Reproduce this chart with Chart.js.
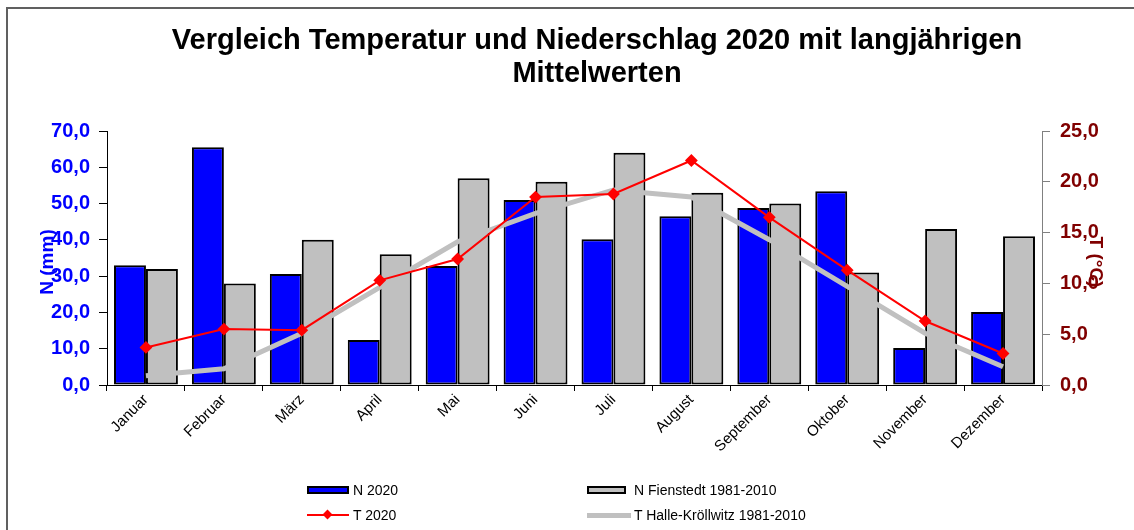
<!DOCTYPE html>
<html>
<head>
<meta charset="utf-8">
<script src="https://cdn.jsdelivr.net/npm/chart.js@4"></script>
<style>
  body { margin: 0; background: #fff; font-family: "Liberation Sans", Arial, sans-serif; }
  #wrap { position: relative; width: 1134px; height: 530px; overflow: hidden; }
  #frame { position: absolute; left: 6px; top: 7px; width: 1140px; height: 540px;
           border-left: 2px solid #606060; border-top: 2px solid #606060; pointer-events: none; }
  #title { position: absolute; left: 297px; top: 23px; width: 600px; margin: 0;
           text-align: center; font-size: 29px; font-weight: bold; line-height: 33px;
           color: #000; white-space: nowrap; display: flex; flex-direction: column; align-items: center; }
  #legend { position: absolute; left: 307px; top: 480px; width: 640px; font-size: 14px; color: #000; }
  .item { position: absolute; display: flex; align-items: center; height: 20px; }
  .sw { position: relative; display: inline-block; height: 20px; }
  .sw span { position: absolute; left: 0; }
</style>
</head>
<body>
<div id="wrap">
  <canvas id="c" width="1134" height="530"></canvas>
  <div id="frame"></div>
  <h1 id="title"><span>Vergleich Temperatur und Niederschlag 2020 mit langjährigen</span><span>Mittelwerten</span></h1>
  <div id="legend"></div>
</div>
<script>
// ================== Data ==================
const months = ['Januar', 'Februar', 'März', 'April', 'Mai', 'Juni', 'Juli', 'August',
  'September', 'Oktober', 'November', 'Dezember'];
const n2020 = [33.0, 65.5, 30.6, 12.4, 32.8, 51.0, 40.2, 46.5, 48.8, 53.4, 10.2, 20.1];
const nFienstedt = [32.0, 28.0, 40.0, 36.0, 57.0, 56.0, 64.0, 53.0, 50.0, 31.0, 43.0, 41.0];
const t2020 = [3.7, 5.5, 5.4, 10.3, 12.4, 18.5, 18.8, 22.1, 16.5, 11.3, 6.3, 3.1];
const tHalle = [0.9, 1.6, 5.1, 9.6, 14.1, 16.9, 19.2, 18.5, 14.3, 9.7, 5.1, 1.8];

const fmt = v => Number(v).toFixed(1).replace('.', ',');
const FONT = '"Liberation Sans", Arial';

// Axis titles drawn over the tick labels, like the original
const AxisTitlePlugin = {
  id: 'axisTitles',
  afterDraw(chart) {
    const { ctx, chartArea: a, scales } = chart;
    const midY = (a.top + a.bottom) / 2 + 4;
    ctx.save();
    ctx.font = `bold 19px ${FONT}`;
    ctx.textAlign = 'center';
    ctx.textBaseline = 'middle';
    ctx.fillStyle = '#0000ff';
    ctx.translate(scales.y.left + 48, midY);
    ctx.rotate(-Math.PI / 2);
    ctx.fillText('N (mm)', 0, 0);
    ctx.restore();
    ctx.save();
    ctx.font = `bold 19px ${FONT}`;
    ctx.textAlign = 'center';
    ctx.textBaseline = 'middle';
    ctx.fillStyle = '#800000';
    ctx.translate(scales.y1.left + 53, midY);
    ctx.rotate(Math.PI / 2);
    ctx.fillText('T (°C)', 0, 0);
    ctx.restore();
  }
};

const chart = new Chart(document.getElementById('c'), {
  data: {
    labels: months,
    datasets: [
      { type: 'line', label: 'T 2020', data: t2020, yAxisID: 'y1', order: 0,
        borderColor: '#ff0000', backgroundColor: '#ff0000', borderWidth: 2,
        pointStyle: 'rectRot', pointRadius: 5, tension: 0 },
      { type: 'line', label: 'T Halle-Kröllwitz 1981-2010', data: tHalle, yAxisID: 'y1', order: 1,
        borderColor: '#c0c0c0', backgroundColor: '#c0c0c0', borderWidth: 5,
        pointRadius: 0, tension: 0 },
      { type: 'bar', label: 'N 2020', data: n2020, yAxisID: 'y', order: 2,
        backgroundColor: '#0000ff', borderColor: '#000', borderWidth: 2, borderSkipped: false,
        categoryPercentage: 0.82, barPercentage: 1 },
      { type: 'bar', label: 'N Fienstedt 1981-2010', data: nFienstedt, yAxisID: 'y', order: 3,
        backgroundColor: '#c0c0c0', borderColor: '#000', borderWidth: 2, borderSkipped: false,
        categoryPercentage: 0.82, barPercentage: 1 }
    ]
  },
  plugins: [AxisTitlePlugin],
  options: {
    responsive: false,
    animation: false,
    layout: { padding: { top: 131, left: 0, right: 0, bottom: 0 } },
    plugins: {
      legend: { display: false },
      tooltip: { enabled: false },
      title: { display: false }
    },
    scales: {
      x: {
        offset: true,
        grid: { offset: true, drawOnChartArea: false, color: '#000', tickLength: 6 },
        border: { color: '#000', width: 1 },
        ticks: { color: '#000', minRotation: 45, maxRotation: 45, padding: 0,
                 font: { family: FONT, size: 15 } },
        afterFit: s => { s.height = 145; }
      },
      y: {
        position: 'left', min: 0, max: 70,
        grid: { drawOnChartArea: false, color: '#000', tickLength: 8 },
        border: { color: '#000', width: 1 },
        ticks: { stepSize: 10, color: '#0000ff', padding: 9, callback: fmt,
                 font: { family: FONT, size: 20, weight: 'bold' } },
        afterFit: s => { s.width = 107; }
      },
      y1: {
        position: 'right', min: 0, max: 25,
        grid: { drawOnChartArea: false, color: '#808080', tickLength: 8 },
        border: { color: '#808080', width: 1 },
        ticks: { stepSize: 5, color: '#800000', padding: 10, callback: fmt,
                 font: { family: FONT, size: 20, weight: 'bold' } },
        afterFit: s => { s.width = 92; }
      }
    }
  }
});

// ================== HTML legend (2 columns, 2 rows) ==================
(function buildLegend() {
  const el = document.getElementById('legend');
  const slots = {
    'N 2020': [0, 0, 42, 4],
    'N Fienstedt 1981-2010': [280, 0, 39, 8],
    'T 2020': [0, 25, 42, 4],
    'T Halle-Kröllwitz 1981-2010': [280, 25, 42, 5]
  };
  chart.data.datasets.forEach(ds => {
    const [x, y, w, gap] = slots[ds.label];
    const item = document.createElement('div');
    item.className = 'item';
    item.style.left = x + 'px';
    item.style.top = y + 'px';
    const sw = document.createElement('span');
    sw.className = 'sw';
    sw.style.width = w + 'px';
    sw.style.marginRight = gap + 'px';
    if (ds.type === 'bar') {
      sw.innerHTML = `<span style="top:6px;width:${w - 4}px;height:4px;background:${ds.backgroundColor};border:2px solid #000"></span>`;
    } else if (ds.pointRadius > 0) {
      sw.innerHTML = `<span style="top:9px;width:${w}px;height:2px;background:${ds.borderColor}"></span>` +
        `<span style="top:6px;left:${w / 2 - 4}px;width:7px;height:7px;background:${ds.borderColor};transform:rotate(45deg)"></span>`;
    } else {
      sw.innerHTML = `<span style="top:8px;width:${w + 2}px;height:5px;background:${ds.borderColor}"></span>`;
    }
    item.appendChild(sw);
    item.appendChild(document.createTextNode(ds.label));
    el.appendChild(item);
  });
})();
</script>
</body>
</html>
